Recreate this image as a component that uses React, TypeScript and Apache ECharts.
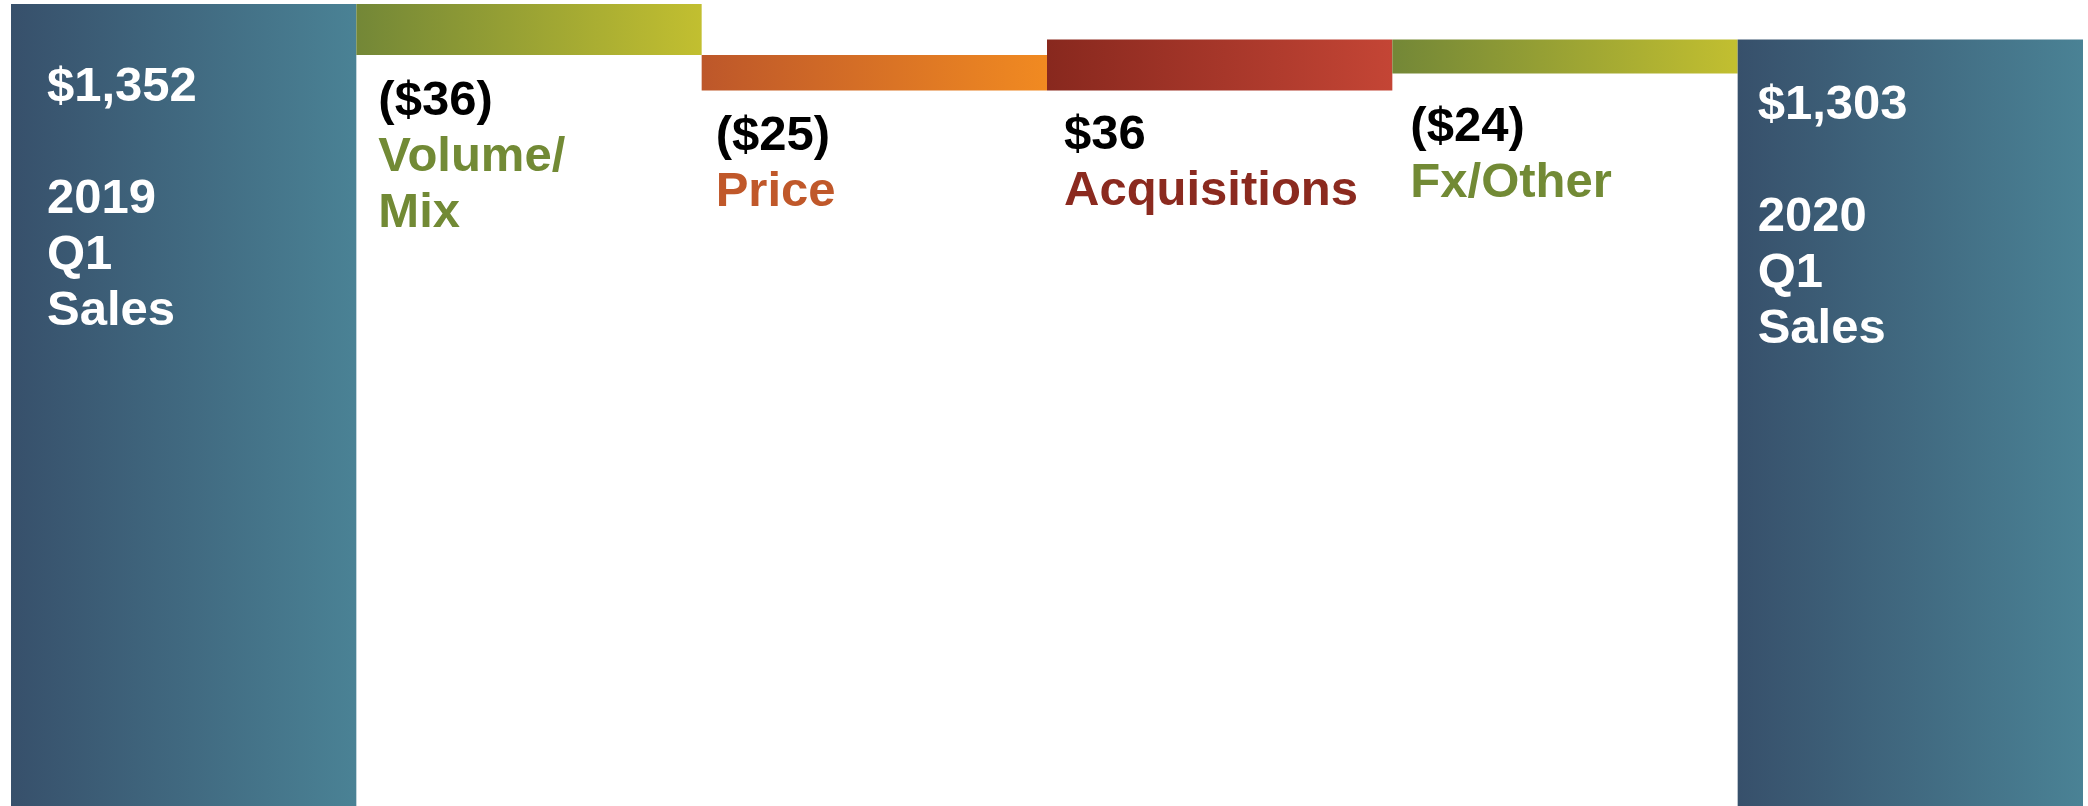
import React, { useEffect, useRef } from "react";
import * as echarts from "echarts";

// ---- data ----
const categories = ["2019\nQ1\nSales", "Volume/\nMix", "Price", "Acquisitions", "Fx/Other", "2020\nQ1\nSales"];
const startTotal = 1352; // 2019 Q1 sales
const deltas = [-36, -25, 36, -24]; // Volume/Mix, Price, Acquisitions, Fx/Other
const endTotalLabel = 1303; // printed 2020 Q1 sales
const endTotalBar = 1327; // height at which the 2020 bar is drawn in the picture
const yMin = 787.2;
const yMax = 1354.8;

const FONT = "'Liberation Sans', Arial, sans-serif";
const FS = 49;
const LH = 56;

const grad = (a: string, b: string) =>
  new echarts.graphic.LinearGradient(0, 0, 1, 0, [
    { offset: 0, color: a },
    { offset: 1, color: b },
  ]);

const totalGrad = () => grad("#37506b", "#4a8295");
const deltaGrads = [
  () => grad("#738737", "#c2bf30"),
  () => grad("#bd572a", "#f18a21"),
  () => grad("#88281e", "#c44535"),
  () => grad("#738737", "#c2bf30"),
];
const deltaNameColors = ["#728a35", "#c0582a", "#8b2a1f", "#728a35"];
const deltaLabelLeft = [22, 14, 17, 18];
const deltaLabelTop = [15, 14, 13, 22];

const money = (v: number) => "$" + Math.abs(v).toLocaleString("en-US");
const deltaText = (v: number) => (v < 0 ? "(" + money(v) + ")" : money(v));

export default function App() {
  const ref = useRef<HTMLDivElement>(null);
  useEffect(() => {
    if (!ref.current) return;
    const chart = echarts.init(ref.current, null, { renderer: "svg" });

    const base: (number | null)[] = [null];
    const visible: any[] = [];
    const barW = 2072 / 6;

    const totalLabel = (text: string, offset: number[]) => ({
      show: true,
      position: "insideTopLeft",
      distance: 0,
      offset,
      align: "left",
      verticalAlign: "top",
      color: "#ffffff",
      fontFamily: FONT,
      fontWeight: "bold",
      fontSize: FS,
      lineHeight: LH,
      formatter: text,
    });

    visible.push({
      value: startTotal,
      itemStyle: { color: totalGrad() },
      label: totalLabel(money(startTotal) + "\n\n" + categories[0], [36, 52]),
    });

    let running = startTotal;
    deltas.forEach((d, i) => {
      const after = running + d;
      base.push(Math.min(running, after));
      visible.push({
        value: Math.abs(d),
        itemStyle: { color: deltaGrads[i]() },
        label: {
          show: true,
          position: "bottom",
          distance: 0,
          offset: [deltaLabelLeft[i] - barW / 2, deltaLabelTop[i]],
          align: "left",
          verticalAlign: "top",
          fontFamily: FONT,
          fontWeight: "bold",
          fontSize: FS,
          lineHeight: LH,
          formatter:
            "{v|" + deltaText(d) + "}\n" +
            categories[i + 1]
              .split("\n")
              .map((s) => "{n|" + s + "}")
              .join("\n"),
          rich: {
            v: { color: "#000000", fontFamily: FONT, fontWeight: "bold", fontSize: FS, lineHeight: LH },
            n: { color: deltaNameColors[i], fontFamily: FONT, fontWeight: "bold", fontSize: FS, lineHeight: LH },
          },
        },
      });
      running = after;
    });

    base.push(null);
    visible.push({
      value: endTotalBar,
      itemStyle: { color: totalGrad() },
      label: totalLabel(money(endTotalLabel) + "\n\n" + categories[5], [20, 35]),
    });

    chart.setOption({
      animation: false,
      grid: { left: 11, right: 5, top: 0, bottom: 0 },
      xAxis: {
        type: "category",
        data: categories,
        show: false,
      },
      yAxis: {
        type: "value",
        min: yMin,
        max: yMax,
        show: false,
      },
      series: [
        {
          name: "base",
          type: "bar",
          stack: "w",
          data: base,
          barCategoryGap: 0,
          itemStyle: { color: "transparent" },
          silent: true,
        },
        {
          name: "value",
          type: "bar",
          stack: "w",
          data: visible,
          barCategoryGap: 0,
        },
      ],
    });
    return () => chart.dispose();
  }, []);

  return (
    <div
      ref={ref}
      style={{ position: "absolute", left: 0, top: 0, width: 2088, height: 806, background: "#ffffff" }}
    />
  );
}
